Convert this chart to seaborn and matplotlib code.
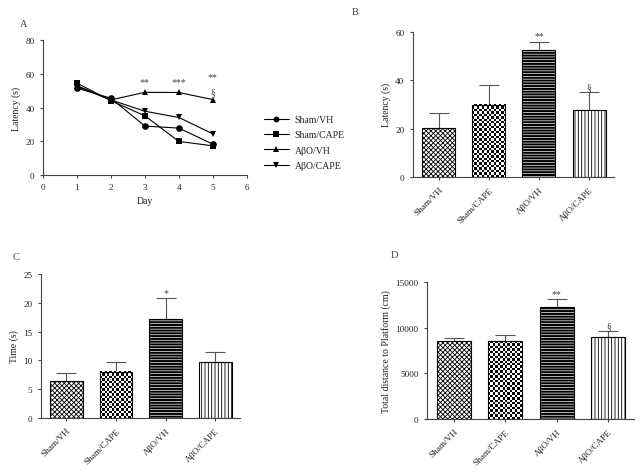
import numpy as np
import pandas as pd
import matplotlib
matplotlib.use('Agg')
import matplotlib.pyplot as plt
import seaborn as sns

# DATA

days = [1, 2, 3, 4, 5]
line_groups = ['Sham/VH', 'Sham/CAPE', 'AβO/VH', 'AβO/CAPE']
sham_vh_latency = [51.5, 45.5, 29.0, 27.8, 18.3]
sham_cape_latency = [54.5, 44.0, 35.1, 19.9, 17.3]
abo_vh_latency = [53.0, 44.5, 49.0, 48.9, 44.7]
abo_cape_latency = [52.5, 44.5, 37.8, 34.1, 24.4]
line_marks = {3: '**', 4: '***', 5: '**'}

groups = ['Sham/VH', 'Sham/CAPE', 'AβO/VH', 'AβO/CAPE']

b_mean = [20.4, 29.9, 52.6, 27.7]
b_err = [6.0, 8.3, 3.3, 7.3]
b_marks = ['', '', '**', '§']

c_mean = [6.4, 8.0, 17.2, 9.7]
c_err = [1.4, 1.8, 3.6, 1.8]
c_marks = ['', '', '*', '']

d_mean = [8525, 8525, 12220, 9000]
d_err = [330, 660, 915, 620]
d_marks = ['', '', '**', '§']

# STYLE

sns.set_style('ticks')
plt.rcParams['font.family'] = ['Liberation Serif', 'DejaVu Serif']
plt.rcParams['font.size'] = 6.5
plt.rcParams['axes.edgecolor'] = '#444444'
plt.rcParams['axes.linewidth'] = 0.8
plt.rcParams['xtick.color'] = '#444444'
plt.rcParams['ytick.color'] = '#444444'
plt.rcParams['xtick.labelcolor'] = '#222222'
plt.rcParams['ytick.labelcolor'] = '#222222'
plt.rcParams['xtick.major.size'] = 2.5
plt.rcParams['ytick.major.size'] = 2.5
plt.rcParams['xtick.major.width'] = 0.8
plt.rcParams['ytick.major.width'] = 0.8
plt.rcParams['text.color'] = '#222222'
plt.rcParams['axes.labelcolor'] = '#222222'

TXT = '#444444'
LBL = 7
TICK = 6.6

fig = plt.figure(figsize=(6.41, 4.77), dpi=100)
ax_a = fig.add_axes([0.067, 0.631, 0.318, 0.283])
ax_b = fig.add_axes([0.644, 0.627, 0.314, 0.304])
ax_c = fig.add_axes([0.0635, 0.1216, 0.311, 0.302])
ax_d = fig.add_axes([0.666, 0.1195, 0.323, 0.287])

# PANEL A

df_a = pd.DataFrame({
    'Day': days * 4,
    'Latency': sham_vh_latency + sham_cape_latency + abo_vh_latency + abo_cape_latency,
    'Group': sum([[g] * len(days) for g in line_groups], []),
})
sns.lineplot(data=df_a, x='Day', y='Latency', hue='Group', style='Group',
             hue_order=line_groups, style_order=line_groups,
             palette=['black'] * 4, markers=['o', 's', '^', 'v'], dashes=False,
             markersize=4.8, linewidth=0.8, markeredgewidth=0, ax=ax_a)
ax_a.set_xlim(0, 6)
ax_a.set_ylim(0, 80)
ax_a.set_xticks(range(0, 7))
ax_a.set_yticks(range(0, 81, 20))
ax_a.tick_params(labelsize=TICK)
ax_a.set_xlabel('Day', fontsize=LBL, labelpad=3)
ax_a.set_ylabel('Latency (s)', fontsize=LBL, labelpad=3)
for d, m in line_marks.items():
    ax_a.text(d, max(abo_vh_latency[d - 1], 50) + 2.5 + (3 if d == 5 else 0), m,
              ha='center', va='bottom', fontsize=LBL, color=TXT)
ax_a.text(5, 49.5, '§', ha='center', va='center', fontsize=LBL, color=TXT)
sns.despine(ax=ax_a)
leg = ax_a.legend(loc='center left', bbox_to_anchor=(1.04, 0.24), frameon=False,
                  fontsize=LBL, handlelength=2.6, handletextpad=0.6, labelspacing=0.65)
for h in leg.legend_handles:
    h.set_markersize(4.2)

# BAR PANELS

HATCH_LW = [0.6, None, 0.5, 0.6]
HATCHES = ['xxxxxxx', None, '------', '|||||']


def checker(ax, patch, cell_px):
    fig.canvas.draw()
    bb = patch.get_window_extent()
    nx = max(int(round(bb.width / cell_px)), 1)
    ny = max(int(round(bb.height / cell_px)), 1)
    arr = np.indices((ny, nx)).sum(0) % 2
    x0, w, h = patch.get_x(), patch.get_width(), patch.get_height()
    xl, yl = ax.get_xlim(), ax.get_ylim()
    ax.imshow(arr, extent=(x0, x0 + w, 0, h), cmap='gray', interpolation='nearest',
              aspect='auto', origin='lower', zorder=1.5)
    ax.set_xlim(xl)
    ax.set_ylim(yl)


def bar_panel(ax, means, errs, marks, ylabel, ymax, ystep, mark_gap):
    sns.barplot(x=groups, y=means, color='white', edgecolor='black', linewidth=0.8,
                width=0.66, saturation=1, ax=ax, zorder=2)
    ax.errorbar(range(len(groups)), means, yerr=[np.zeros(len(errs)), errs],
                fmt='none', ecolor='#555555', elinewidth=0.8, capsize=7.2,
                capthick=0.8, zorder=1)
    ax.set_xlim(-0.52, 3.5)
    ax.set_ylim(0, ymax)
    ax.set_yticks(np.arange(0, ymax + 1, ystep))
    for i, p in enumerate(ax.patches):
        if HATCHES[i]:
            p.set_hatch(HATCHES[i])
            if hasattr(p, 'set_hatch_linewidth'):
                p.set_hatch_linewidth(HATCH_LW[i])
    bar3 = ax.patches[2]
    bar3.set_facecolor('black')
    bar3.set_edgecolor('white')
    ax.add_patch(plt.Rectangle((bar3.get_x(), 0), bar3.get_width(), bar3.get_height(),
                               fill=False, edgecolor='black', linewidth=0.8, zorder=3))
    p2 = ax.patches[1]
    p2.set_facecolor('none')
    p2.set_zorder(3)
    checker(ax, p2, 2.4)
    for i, m in enumerate(marks):
        if m:
            ax.text(i, means[i] + errs[i] + mark_gap, m, ha='center', va='bottom',
                    fontsize=LBL, color=TXT)
    ax.set_ylabel(ylabel, fontsize=LBL, labelpad=3)
    ax.set_xlabel('')
    ax.tick_params(axis='both', labelsize=TICK)
    plt.setp(ax.get_xticklabels(), rotation=45, ha='right', rotation_mode='anchor')
    sns.despine(ax=ax)


bar_panel(ax_b, b_mean, b_err, b_marks, 'Latency (s)', 60, 20, 0.6)
bar_panel(ax_c, c_mean, c_err, c_marks, 'Time (s)', 25, 5, 0.2)
bar_panel(ax_d, d_mean, d_err, d_marks, 'Total distance to Platform (cm)', 15000, 5000, 150)

fig.text(0.031, 0.948, 'A', fontsize=7.5, va='center', color=TXT)
fig.text(0.549, 0.973, 'B', fontsize=7.5, va='center', color=TXT)
fig.text(0.020, 0.461, 'C', fontsize=7.5, va='center', color=TXT)
fig.text(0.610, 0.465, 'D', fontsize=7.5, va='center', color=TXT)

fig.savefig('out.png', dpi=100)
